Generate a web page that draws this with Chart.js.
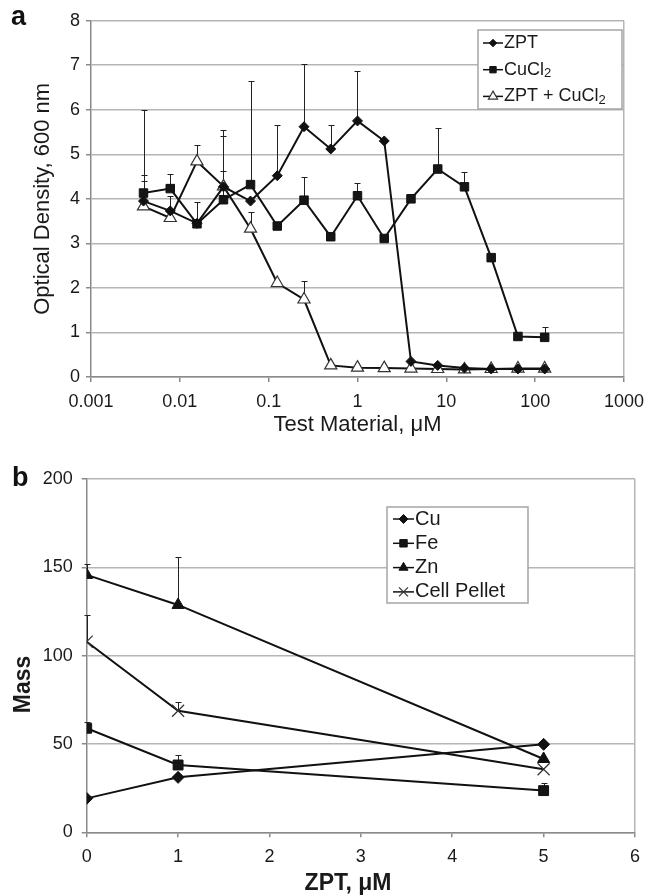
<!DOCTYPE html>
<html>
<head>
<meta charset="utf-8">
<script src="https://cdn.jsdelivr.net/npm/chart.js@4.4.0/dist/chart.umd.min.js"></script>
<style>
  body { margin: 0; background: #fff; width: 653px; height: 895px; overflow: hidden; position: relative;
         font-family: "Liberation Sans", Arial, sans-serif; }
  .panel { position: absolute; font-weight: bold; font-size: 27px; line-height: 27px; color: #111; }
  #chartA { position: absolute; left: 0; top: 0; }
  #chartB { position: absolute; left: 0; top: 445px; }
</style>
</head>
<body>
<canvas id="chartA" width="653" height="445"></canvas>
<canvas id="chartB" width="653" height="450"></canvas>
<div class="panel" style="left:11px; top:3px;">a</div>
<div class="panel" style="left:12px; top:464px;">b</div>
<script>
// panel a: optical density vs concentration (log axis)
const concA = [0.0039, 0.0078, 0.0156, 0.031, 0.0625, 0.125, 0.25, 0.5, 1, 2, 4, 8, 16, 32, 64, 128];
const ticksA = [0.001, 0.01, 0.1, 1, 10, 100, 1000];
const labelsA = ["ZPT", "CuCl₂", "ZPT + CuCl₂"];
const zpt = [3.95, 3.73, 3.45, 4.27, 3.95, 4.52, 5.62, 5.12, 5.75, 5.3, 0.35, 0.26, 0.2, 0.18, 0.18, 0.18];
const zptErr = [4.39, 4.06, null, 5.42, null, 5.65, 7.03, 5.65, 6.88, null, null, null, null, null, null, null];
const cucl2 = [4.13, 4.23, 3.44, 3.98, 4.32, 3.39, 3.97, 3.15, 4.07, 3.11, 4.0, 4.67, 4.27, 2.68, 0.91, 0.89];
const cucl2Err = [6.0, 4.56, 3.92, 4.62, 6.65, null, 4.48, null, 4.35, null, 4.1, 5.6, 4.6, null, null, 1.13];
const zptCu = [3.83, 3.57, 4.84, 4.28, 3.33, 2.11, 1.74, 0.26, 0.21, 0.2, 0.19, 0.18, 0.17, 0.18, 0.19, 0.19];
const zptCuErr = [4.54, null, 5.22, 5.55, 3.7, null, 2.15, null, null, null, null, null, null, null, null, null];

// panel b: metal mass vs ZPT
const zptB = [0, 1, 5];
const labelsB = ["Cu", "Fe", "Zn", "Cell Pellet"];
const cu = [19.2, 31.1, 49.8];
const fe = [58.9, 38.1, 23.6];
const feErr = [62.6, 43.8, 27.7];
const zn = [145.7, 128.7, 41.5];
const znErr = [151.7, 156, null];
const pellet = [107.9, 68.8, 35.7];
const pelletErr = [123, 73.9, null];

const FONT = '"Liberation Sans", Arial, sans-serif';
const TXT = "#1a1a1a";
const GRID = "#b5b5b5";
const AXIS = "#8a8a8a";

function pts(xs, ys) {
  return xs.map((x, i) => ({ x: x, y: ys[i] }));
}

function drawMarker(ctx, style, x, y, r, fill, stroke, bw) {
  ctx.beginPath();
  if (style === "rect") {
    const s = r * Math.SQRT1_2;
    ctx.rect(x - s, y - s, 2 * s, 2 * s);
  } else if (style === "rectRot") {
    ctx.moveTo(x, y - r); ctx.lineTo(x + r, y); ctx.lineTo(x, y + r); ctx.lineTo(x - r, y); ctx.closePath();
  } else if (style === "triangle") {
    for (let k = 0; k < 3; k++) {
      const a = k * 2 * Math.PI / 3;
      const px = x + Math.sin(a) * r, py = y - Math.cos(a) * r;
      if (k === 0) ctx.moveTo(px, py); else ctx.lineTo(px, py);
    }
    ctx.closePath();
  } else if (style === "crossRot") {
    const s = r * Math.SQRT1_2;
    ctx.moveTo(x - s, y - s); ctx.lineTo(x + s, y + s);
    ctx.moveTo(x - s, y + s); ctx.lineTo(x + s, y - s);
  }
  ctx.lineWidth = bw;
  ctx.strokeStyle = stroke;
  if (style !== "crossRot") { ctx.fillStyle = fill; ctx.fill(); }
  ctx.stroke();
}

function drawLabel(ctx, text, x, y, size) {
  const parts = text.split("₂");
  parts.forEach((p, j) => {
    ctx.font = size + "px " + FONT;
    ctx.fillText(p, x, y);
    x += ctx.measureText(p).width;
    if (j < parts.length - 1) {
      ctx.font = Math.round(size * 0.72) + "px " + FONT;
      ctx.fillText("2", x, y + size * 0.22);
      x += ctx.measureText("2").width;
    }
  });
}

const errorBars = {
  id: "errorBars",
  beforeDatasetsDraw(chart) {
    const ctx = chart.ctx, xs = chart.scales.x, ys = chart.scales.y;
    ctx.save();
    ctx.strokeStyle = "#222";
    ctx.lineWidth = 1;
    chart.data.datasets.forEach(ds => {
      (ds.errTop || []).forEach((top, i) => {
        if (top == null) return;
        const p = ds.data[i];
        const px = Math.round(xs.getPixelForValue(p.x)) + 0.5;
        const y0 = ys.getPixelForValue(p.y), y1 = Math.round(ys.getPixelForValue(top)) + 0.5;
        ctx.beginPath();
        ctx.moveTo(px, y0); ctx.lineTo(px, y1);
        ctx.moveTo(px - 3, y1); ctx.lineTo(px + 3, y1);
        ctx.stroke();
      });
    });
    ctx.restore();
  }
};

const legendBox = {
  id: "legendBox",
  afterDraw(chart, args, o) {
    const ctx = chart.ctx;
    ctx.save();
    ctx.fillStyle = "#fff";
    ctx.strokeStyle = "#a5a5a5";
    ctx.lineWidth = 1.5;
    ctx.fillRect(o.x, o.y, o.w, o.h);
    ctx.strokeRect(o.x, o.y, o.w, o.h);
    ctx.textBaseline = "middle";
    chart.data.datasets.forEach((ds, i) => {
      const cy = o.y + o.first + i * o.step;
      const sx = o.x + o.symX;
      ctx.beginPath();
      ctx.strokeStyle = "#111";
      ctx.lineWidth = 1.5;
      ctx.moveTo(sx, cy); ctx.lineTo(sx + o.symW, cy);
      ctx.stroke();
      drawMarker(ctx, ds.pointStyle, sx + o.symW / 2, cy, ds.pointRadius * o.mScale,
        ds.pointBackgroundColor, ds.pointBorderColor, ds.pointBorderWidth);
      ctx.fillStyle = TXT;
      drawLabel(ctx, ds.label, sx + o.symW + 1, cy, o.size);
    });
    ctx.restore();
  }
};

function line(label, data, err, style, r, fill, stroke, bw) {
  return {
    label: label, data: data, errTop: err,
    borderColor: "#111", borderWidth: 2, tension: 0,
    pointStyle: style, pointRadius: r, pointHoverRadius: r,
    pointBackgroundColor: fill, pointBorderColor: stroke, pointBorderWidth: bw
  };
}

new Chart(document.getElementById("chartA"), {
  type: "line",
  data: {
    datasets: [
      line(labelsA[0], pts(concA, zpt), zptErr, "rectRot", 5, "#111", "#111", 1),
      line(labelsA[1], pts(concA, cucl2), cucl2Err, "rect", 6, "#151515", "#111", 1),
      line(labelsA[2], pts(concA, zptCu), zptCuErr, "triangle", 7, "#fff", "#333", 1.2)
    ]
  },
  options: {
    responsive: false,
    animation: false,
    layout: { padding: { left: 0, right: 23, top: 20.7, bottom: 0 } },
    plugins: {
      legend: { display: false },
      tooltip: { enabled: false },
      legendBox: { x: 478, y: 30, w: 144, h: 79, first: 13, step: 26.7, symX: 5, symW: 20, mScale: 0.75, size: 18 }
    },
    scales: {
      x: {
        type: "logarithmic", min: 0.001, max: 1000,
        afterBuildTicks: s => { s.ticks = ticksA.map(v => ({ value: v })); },
        afterFit: s => { s.height = 68; },
        ticks: { callback: v => String(v), autoSkip: false, maxRotation: 0, padding: 9,
                 color: TXT, font: { family: FONT, size: 18 } },
        grid: { color: c => (c.tick && c.tick.value === 1000 ? GRID : "transparent"),
                tickColor: AXIS, tickLength: 5, lineWidth: 1.5 },
        border: { color: AXIS, width: 1.5 },
        title: { display: true, text: "Test Material, μM", color: TXT,
                 font: { family: FONT, size: 22 }, padding: { top: 0, bottom: 7 } }
      },
      y: {
        min: 0, max: 8,
        afterFit: s => { s.width = 91; },
        ticks: { stepSize: 1, padding: 6, color: TXT, font: { family: FONT, size: 18 } },
        grid: { color: GRID, tickColor: AXIS, tickLength: 5, lineWidth: 1.5 },
        border: { color: AXIS, width: 1.5 },
        title: { display: true, text: "Optical Density, 600 nm", color: TXT,
                 font: { family: FONT, size: 22 }, padding: { top: 30, bottom: 0 } }
      }
    }
  },
  plugins: [errorBars, legendBox]
});

new Chart(document.getElementById("chartB"), {
  type: "line",
  data: {
    datasets: [
      line(labelsB[0], pts(zptB, cu), null, "rectRot", 6, "#111", "#111", 1),
      line(labelsB[1], pts(zptB, fe), feErr, "rect", 7, "#151515", "#111", 1),
      line(labelsB[2], pts(zptB, zn), znErr, "triangle", 7, "#111", "#111", 1),
      line(labelsB[3], pts(zptB, pellet), pelletErr, "crossRot", 8.5, "#fff", "#333", 1.2)
    ]
  },
  options: {
    responsive: false,
    animation: false,
    layout: { padding: { left: 0, right: 18, top: 34, bottom: 0 } },
    plugins: {
      legend: { display: false },
      tooltip: { enabled: false },
      legendBox: { x: 387, y: 62, w: 141, h: 96, first: 12, step: 24.3, symX: 6, symW: 21, mScale: 0.75, size: 20 }
    },
    scales: {
      x: {
        type: "linear", min: 0, max: 6,
        afterFit: s => { s.height = 62.7; },
        ticks: { stepSize: 1, padding: 9, maxRotation: 0, color: TXT, font: { family: FONT, size: 18 } },
        grid: { color: c => (c.tick && c.tick.value === 6 ? GRID : "transparent"),
                tickColor: AXIS, tickLength: 5, lineWidth: 1.5 },
        border: { color: AXIS, width: 1.5 },
        title: { display: true, text: "ZPT, μM\u00a0\u00a0\u00a0\u00a0", color: TXT,
                 font: { family: FONT, size: 23, weight: "bold", lineHeight: 1 }, padding: { top: 0, bottom: 0 } }
      },
      y: {
        min: 0, max: 200,
        afterFit: s => { s.width = 86.7; },
        ticks: { stepSize: 50, padding: 9, color: TXT, font: { family: FONT, size: 18 } },
        grid: { color: GRID, tickColor: AXIS, tickLength: 5, lineWidth: 1.5 },
        border: { color: AXIS, width: 1.5 },
        title: { display: true, text: "Mass\u00a0\u00a0\u00a0\u00a0\u00a0\u00a0\u00a0\u00a0\u00a0", color: TXT,
                 font: { family: FONT, size: 23, weight: "bold" }, padding: { top: 10, bottom: 0 } }
      }
    }
  },
  plugins: [errorBars, legendBox]
});
</script>
</body>
</html>
